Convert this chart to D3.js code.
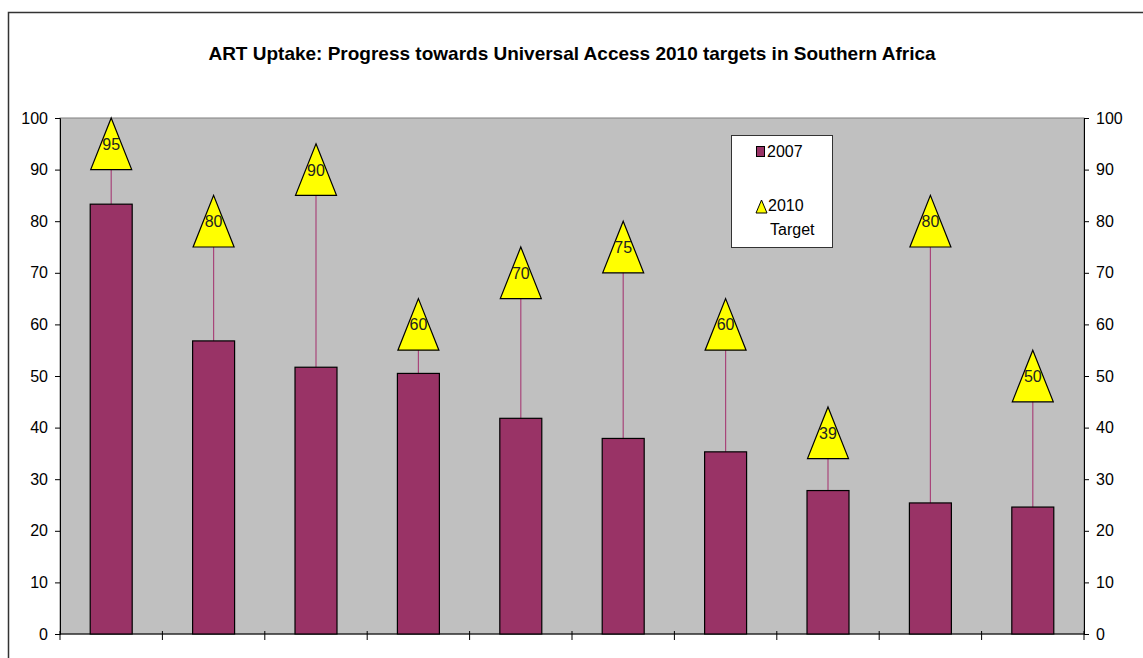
<!DOCTYPE html>
<html>
<head>
<meta charset="utf-8">
<script src="https://cdn.jsdelivr.net/npm/d3@7"></script>
<style>
  body { margin: 0; background: #fff; }
  svg { display: block; font-family: "Liberation Sans", Arial, sans-serif; }
</style>
</head>
<body>
<svg id="chart" width="1143" height="658"></svg>
<script>
// données
const categories = ["c1", "c2", "c3", "c4", "c5", "c6", "c7", "c8", "c9", "c10"];
const uptake2007 = [83.3, 56.8, 51.7, 50.5, 41.8, 37.9, 35.3, 27.8, 25.4, 24.6];
const target2010 = [95, 80, 90, 60, 70, 75, 60, 39, 80, 50];
const yTicks = [0, 10, 20, 30, 40, 50, 60, 70, 80, 90, 100];

const svg = d3.select("#chart");
const plot = { left: 60, top: 118, right: 1084, bottom: 634 };

// cadre extérieur
svg.append("rect")
  .attr("x", 8.5).attr("y", 12.5)
  .attr("width", 1160).attr("height", 700)
  .attr("fill", "#fff").attr("stroke", "#333").attr("stroke-width", 1.5);

svg.append("text")
  .attr("x", 572).attr("y", 60)
  .attr("text-anchor", "middle")
  .attr("font-size", 19).attr("font-weight", "bold")
  .text("ART Uptake: Progress towards Universal Access 2010 targets in Southern Africa");

const x = d3.scaleBand().domain(categories).range([plot.left, plot.right]);
const y = d3.scaleLinear().domain([0, 100]).range([plot.bottom, plot.top]);

// zone de tracé
svg.append("rect")
  .attr("x", plot.left).attr("y", plot.top)
  .attr("width", plot.right - plot.left).attr("height", plot.bottom - plot.top)
  .attr("fill", "#c0c0c0").attr("stroke", "#808080");

// axes
const leftAxis = svg.append("g")
  .attr("transform", `translate(${plot.left},0)`)
  .call(d3.axisLeft(y).tickValues(yTicks).tickSize(5).tickPadding(7));
const rightAxis = svg.append("g")
  .attr("transform", `translate(${plot.right},0)`)
  .call(d3.axisRight(y).tickValues(yTicks).tickSize(5).tickPadding(7));
[leftAxis, rightAxis].forEach((g) => {
  g.selectAll("text").attr("font-size", 16).attr("fill", "#000")
    .attr("font-family", "'Liberation Sans', Arial, sans-serif");
  g.selectAll("line").attr("stroke", "#000");
  g.select(".domain").attr("stroke", "#000");
});

// graduations des catégories
const bounds = d3.range(categories.length + 1).map((i) => plot.left + i * x.step());
svg.append("g").selectAll("line").data(bounds).enter().append("line")
  .attr("x1", (d) => d).attr("x2", (d) => d)
  .attr("y1", plot.bottom - 3).attr("y2", plot.bottom + 6)
  .attr("stroke", "#000");
svg.append("line")
  .attr("x1", plot.left).attr("x2", plot.right)
  .attr("y1", plot.bottom).attr("y2", plot.bottom)
  .attr("stroke", "#000");

const barW = x.step() * 0.41;
const cx = (d, i) => x(categories[i]) + x.bandwidth() / 2;

// lignes de chute
svg.append("g").selectAll("line").data(target2010).enter().append("line")
  .attr("x1", cx).attr("x2", cx)
  .attr("y1", (d) => y(d))
  .attr("y2", (d, i) => y(uptake2007[i]))
  .attr("stroke", "#a8457a").attr("stroke-width", 1.2);

// barres 2007
svg.append("g").selectAll("rect").data(uptake2007).enter().append("rect")
  .attr("x", (d, i) => cx(d, i) - barW / 2)
  .attr("y", (d) => y(d))
  .attr("width", barW)
  .attr("height", (d) => y(0) - y(d))
  .attr("fill", "#993366").attr("stroke", "#000").attr("stroke-width", 1.2);

// triangles objectifs 2010
const triH = y(0) - y(10), triW = 41;
const tri = svg.append("g").selectAll("g").data(target2010).enter().append("g")
  .attr("transform", (d, i) => `translate(${cx(d, i)},${y(d)})`);
tri.append("path")
  .attr("d", `M0,${-triH / 2}L${triW / 2},${triH / 2}L${-triW / 2},${triH / 2}Z`)
  .attr("fill", "#ffff00").attr("stroke", "#000").attr("stroke-width", 1.2);
tri.append("text")
  .attr("y", 6).attr("text-anchor", "middle")
  .attr("font-size", 16).attr("fill", "#222")
  .text((d) => d);

// légende
const lg = svg.append("g");
lg.append("rect")
  .attr("x", 731.5).attr("y", 135.5).attr("width", 101).attr("height", 112)
  .attr("fill", "#fff").attr("stroke", "#333");
lg.append("rect")
  .attr("x", 756.5).attr("y", 146.5).attr("width", 8).attr("height", 10)
  .attr("fill", "#993366").attr("stroke", "#000");
lg.append("text").attr("x", 767).attr("y", 157).attr("font-size", 16).text("2007");
lg.append("path")
  .attr("d", "M761.5,200L767,213L756,213Z")
  .attr("fill", "#ffff00").attr("stroke", "#000");
lg.append("text").attr("x", 768).attr("y", 211).attr("font-size", 16).text("2010");
lg.append("text").attr("x", 770).attr("y", 235).attr("font-size", 16).text("Target");
</script>
</body>
</html>
